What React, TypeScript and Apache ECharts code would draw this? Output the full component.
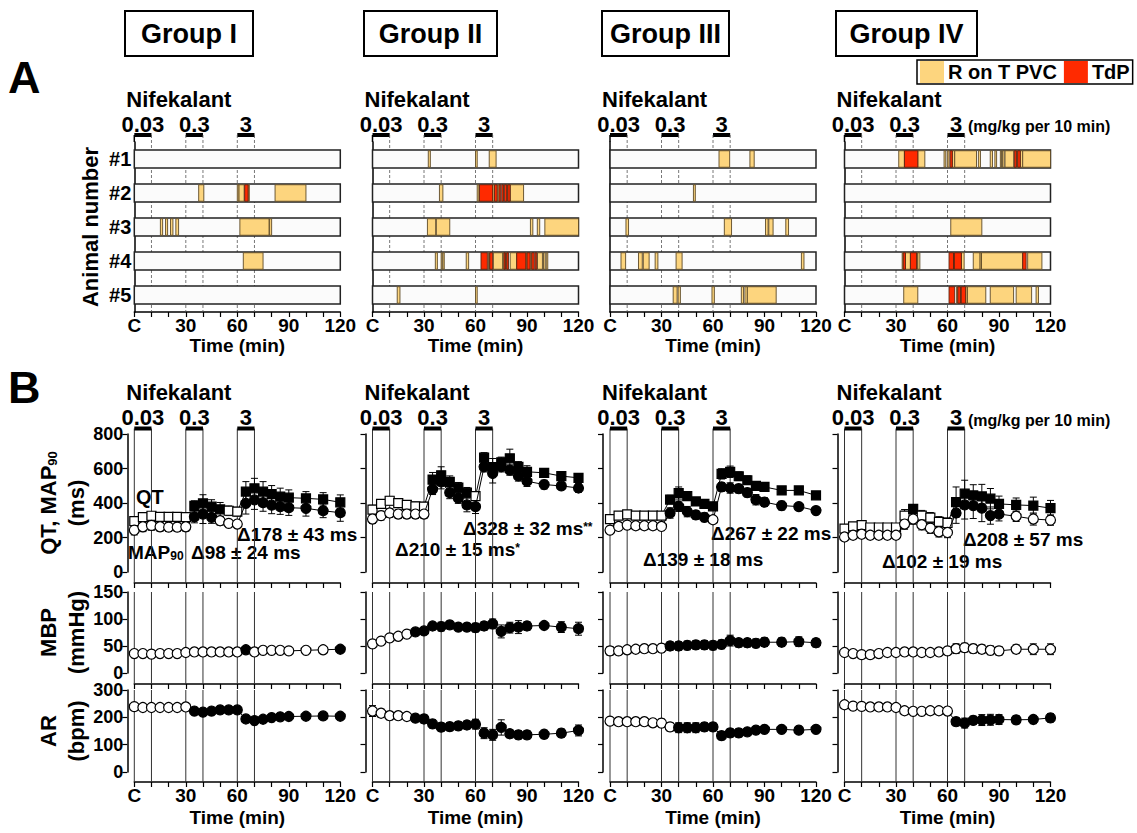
import { useEffect, useRef } from 'react';
import * as echarts from 'echarts';

const FONT = '"Liberation Sans", Arial, Helvetica, sans-serif';

// ---------- labels ----------
const GROUP_NAMES = ['Group I', 'Group II', 'Group III', 'Group IV'];
const ANIMALS = ['#1', '#2', '#3', '#4', '#5'];
const TIMES = [0, 5, 10, 15, 20, 25, 30, 35, 40, 45, 50, 55, 60, 65, 70, 75, 80, 85, 90, 100, 110, 120];
const X_TICK_VALUES = [0, 30, 60, 90, 120];
const X_TICK_TEXT = ['C', '30', '60', '90', '120'];
const DOSE_LABELS = ['0.03', '0.3', '3'];
const DOSE_START = [0, 30, 60];
const DOSE_END = [10, 40, 70];
const LEGEND_NAMES = ['R on T PVC', 'TdP'];
const DELTA_LOW = ['Δ98 ± 24 ms', 'Δ210 ± 15 ms', 'Δ139 ± 18 ms', 'Δ102 ± 19 ms'];
const DELTA_LOW_MARK = ['', '*', '', ''];
const DELTA_HIGH = ['Δ178 ± 43 ms', 'Δ328 ± 32 ms', 'Δ267 ± 22 ms', 'Δ208 ± 57 ms'];
const DELTA_HIGH_MARK = ['', '**', '', ''];

// ---------- panel A events: [animal index, start min, end min] ----------
const RONT_I = [
  [1, 37.5, 40.5], [1, 60, 61], [1, 61, 64], [1, 66.3, 67], [1, 82, 100],
  [2, 15.2, 16.5], [2, 18.2, 19.4], [2, 21.1, 22.5], [2, 24.2, 25.8], [2, 61.5, 78.5], [2, 78.8, 80],
  [3, 63.5, 75],
];
const TDP_I = [[1, 64.3, 66.3]];

const RONT_II = [
  [0, 32.5, 33.7], [0, 60, 61], [0, 68, 72],
  [1, 39, 41], [1, 61, 62], [1, 70, 71], [1, 72.6, 73.7], [1, 78.2, 78.8], [1, 80.2, 88],
  [2, 32, 36.8], [2, 37.2, 45], [2, 92, 93.4], [2, 96, 97.4], [2, 100.4, 120],
  [3, 36.6, 37.8], [3, 40, 40.6], [3, 41, 41.8], [3, 54.6, 56], [3, 67.6, 68.2], [3, 70.4, 75.9],
  [3, 75.9, 76.6], [3, 77.4, 78.2], [3, 80.2, 84], [3, 89.3, 90], [3, 91.8, 92.8], [3, 96.1, 99],
  [3, 99.6, 100.6], [3, 101.2, 102.1],
  [4, 14.4, 16], [4, 60, 61],
];
const TDP_II = [
  [1, 62.3, 70], [1, 71, 72.6], [1, 73.7, 74.7], [1, 75.3, 76.3], [1, 76.8, 78.2], [1, 78.8, 80.2],
  [3, 63.2, 66.9], [3, 68.3, 70], [3, 76.6, 77.4], [3, 78.2, 79.2], [3, 84, 89.3], [3, 90, 91.8],
  [3, 92.8, 94.2], [3, 94.7, 95.7],
];

const RONT_III = [
  [0, 63.5, 69.7], [0, 81.5, 84],
  [1, 48.6, 49.7],
  [2, 9.3, 10.8], [2, 66.6, 70.8], [2, 90.6, 92.1], [2, 92.5, 95], [2, 102.4, 104],
  [3, 6.4, 9.1], [3, 16.6, 18.8], [3, 19.4, 22.8], [3, 26.3, 27.9], [3, 38.5, 42], [3, 111.5, 113],
  [4, 36.8, 39.1], [4, 39.7, 41], [4, 59.4, 60.8], [4, 76.5, 77.8], [4, 78.6, 80], [4, 80, 96.8],
];
const TDP_III: number[][] = [];

const RONT_IV = [
  [0, 31.6, 34.9], [0, 42.7, 46.8], [0, 58, 59], [0, 59.9, 60.9], [0, 62.8, 64.2], [0, 64.2, 76.9],
  [0, 78, 79.2], [0, 84.9, 86.2], [0, 87.6, 88.6], [0, 90.8, 91.5], [0, 92, 93], [0, 93.5, 98.6],
  [0, 100.1, 100.9], [0, 102.4, 103.8], [0, 103.8, 120],
  [2, 61.9, 80],
  [3, 33.6, 34.2], [3, 35.5, 38.4], [3, 42, 42.7], [3, 42.7, 43.9], [3, 63.5, 64], [3, 68.1, 69.7],
  [3, 75, 79], [3, 79, 79.8], [3, 79.8, 103.8], [3, 106.7, 115],
  [4, 34.5, 42.7], [4, 65.3, 66], [4, 67.5, 68], [4, 70.6, 71.6], [4, 71.6, 82.3], [4, 84.9, 98.5],
  [4, 100, 109], [4, 111.6, 113],
];
const TDP_IV = [
  [0, 34.9, 42.7], [0, 61.5, 62.8], [0, 98.9, 100.1], [0, 100.9, 102.4],
  [3, 34.2, 35.5], [3, 38.4, 42], [3, 60.9, 63.5], [3, 64, 68.1], [3, 103.8, 105.8],
  [4, 60.9, 64.2], [4, 66, 67.5], [4, 68, 70.6],
];

// ---------- panel B (values at TIMES) ----------
// Group I
const QT_I = [295, 318, 326, 320, 320, 320, 318, 383, 398, 379, 363, 355, 350, 466, 485, 466, 451, 437, 431, 427, 421, 404];
const QT_I_ERR = [15, 15, 15, 15, 15, 15, 15, 30, 50, 40, 40, 28, 25, 58, 58, 58, 50, 49, 45, 39, 39, 43];
const QT_I_FILL = [0, 0, 0, 0, 0, 0, 0, 1, 1, 1, 1, 0, 0, 1, 1, 1, 1, 1, 1, 1, 1, 1];
const MAP_I = [243, 262, 270, 262, 260, 260, 262, 320, 336, 317, 297, 282, 278, 398, 418, 402, 388, 379, 373, 369, 355, 344];
const MAP_I_ERR = [28, 28, 28, 25, 25, 25, 25, 35, 55, 35, 25, 20, 20, 62, 55, 50, 50, 45, 45, 45, 40, 50];
const MAP_I_FILL = [0, 0, 0, 0, 0, 0, 0, 1, 1, 1, 0, 0, 0, 1, 1, 1, 1, 1, 1, 1, 1, 1];
const MBP_I = [36, 36, 35, 36, 36, 36, 38, 39, 39, 39, 39, 39, 39, 43, 39, 42, 42, 42, 41, 42, 43, 44];
const MBP_I_ERR = [3, 3, 3, 3, 3, 3, 3, 3, 3, 3, 3, 3, 3, 3, 3, 3, 3, 3, 3, 3, 3, 3];
const MBP_I_FILL = [0, 0, 0, 0, 0, 0, 0, 0, 0, 0, 0, 0, 0, 1, 0, 0, 0, 0, 0, 0, 0, 1];
const AR_I = [239, 236, 236, 236, 236, 236, 238, 223, 219, 223, 227, 227, 227, 194, 188, 193, 199, 202, 203, 204, 205, 204];
const AR_I_ERR = [6, 5, 5, 5, 5, 5, 5, 5, 5, 5, 5, 5, 5, 6, 6, 5, 5, 5, 5, 5, 5, 5];
const AR_I_FILL = [0, 0, 0, 0, 0, 0, 0, 1, 1, 1, 1, 1, 1, 1, 1, 1, 1, 1, 1, 1, 1, 1];
// Group II
const QT_II = [362, 395, 413, 399, 389, 381, 379, 536, 561, 522, 489, 460, 440, 663, 608, 636, 659, 610, 581, 575, 556, 546];
const QT_II_ERR = [25, 25, 25, 25, 25, 25, 25, 41, 49, 35, 30, 30, 25, 29, 50, 30, 53, 30, 35, 20, 20, 20];
const QT_II_FILL = [0, 0, 0, 0, 0, 0, 0, 1, 1, 1, 1, 1, 0, 1, 1, 1, 1, 1, 1, 1, 1, 1];
const MAP_II = [307, 327, 342, 336, 336, 336, 336, 479, 522, 460, 428, 389, 379, 610, 571, 610, 591, 557, 526, 507, 499, 487];
const MAP_II_ERR = [25, 25, 25, 25, 25, 25, 25, 30, 40, 35, 30, 40, 40, 30, 55, 30, 30, 30, 30, 25, 20, 25];
const MAP_II_FILL = [0, 0, 0, 0, 0, 0, 0, 1, 1, 1, 1, 1, 1, 1, 1, 1, 1, 1, 1, 1, 1, 1];
const MBP_II = [54, 59, 65, 68, 72, 76, 78, 87, 86, 89, 85, 85, 84, 87, 91, 77, 84, 85, 87, 88, 85, 82];
const MBP_II_ERR = [5, 4, 4, 4, 4, 4, 5, 7, 8, 7, 6, 7, 8, 8, 9, 12, 10, 12, 8, 5, 10, 12];
const MBP_II_FILL = [0, 0, 0, 0, 0, 1, 1, 1, 1, 1, 1, 1, 1, 1, 1, 1, 1, 1, 1, 1, 1, 1];
const AR_II = [223, 215, 206, 206, 203, 197, 194, 176, 164, 166, 169, 172, 175, 142, 136, 163, 140, 136, 136, 138, 142, 152];
const AR_II_ERR = [20, 15, 15, 12, 12, 12, 15, 15, 15, 15, 15, 15, 18, 20, 20, 28, 15, 15, 15, 15, 15, 20];
const AR_II_FILL = [0, 0, 0, 0, 0, 1, 1, 1, 1, 1, 1, 1, 1, 1, 1, 1, 1, 1, 1, 1, 1, 1];
// Group III
const QT_III = [307, 327, 334, 327, 327, 327, 327, 420, 458, 440, 409, 395, 381, 569, 581, 555, 532, 499, 493, 473, 473, 444];
const QT_III_ERR = [18, 18, 18, 15, 15, 15, 15, 25, 35, 25, 20, 20, 20, 30, 33, 25, 25, 25, 25, 20, 20, 15];
const QT_III_FILL = [0, 0, 0, 0, 0, 0, 0, 1, 1, 1, 1, 1, 1, 1, 1, 1, 1, 1, 1, 1, 1, 1];
const MAP_III = [243, 264, 272, 268, 268, 268, 264, 342, 381, 350, 331, 317, 303, 493, 487, 483, 460, 419, 405, 385, 379, 356];
const MAP_III_ERR = [20, 20, 20, 20, 20, 20, 20, 30, 30, 30, 25, 25, 15, 25, 30, 25, 25, 30, 25, 25, 20, 20];
const MAP_III_FILL = [0, 0, 0, 0, 0, 0, 0, 1, 1, 1, 1, 1, 0, 1, 1, 1, 1, 1, 1, 1, 1, 1];
const MBP_III = [41, 41, 43, 44, 45, 45, 46, 50, 50, 51, 52, 52, 51, 53, 60, 56, 56, 55, 57, 57, 58, 56];
const MBP_III_ERR = [8, 6, 6, 5, 5, 6, 7, 8, 8, 8, 8, 8, 8, 8, 10, 8, 8, 8, 8, 8, 9, 8];
const MBP_III_FILL = [0, 0, 0, 0, 0, 0, 0, 1, 1, 1, 1, 1, 1, 1, 1, 1, 1, 1, 1, 1, 1, 1];
const AR_III = [186, 184, 184, 184, 184, 180, 179, 165, 162, 162, 162, 165, 165, 133, 143, 143, 147, 153, 156, 156, 153, 156];
const AR_III_ERR = [10, 12, 12, 12, 12, 12, 14, 15, 18, 18, 18, 15, 15, 15, 15, 15, 12, 12, 12, 10, 10, 12];
const AR_III_FILL = [0, 0, 0, 0, 0, 0, 0, 0, 1, 1, 1, 1, 1, 1, 1, 1, 1, 1, 1, 1, 1, 1];
// Group IV
const QT_IV = [252, 264, 272, 258, 258, 258, 258, 327, 366, 327, 315, 291, 284, 405, 454, 444, 438, 425, 395, 389, 385, 370];
const QT_IV_ERR = [20, 20, 20, 20, 20, 20, 20, 35, 25, 30, 30, 30, 30, 88, 78, 62, 70, 59, 45, 40, 49, 45];
const QT_IV_FILL = [0, 0, 0, 0, 0, 0, 0, 0, 1, 0, 0, 0, 0, 1, 1, 1, 1, 1, 1, 1, 1, 1];
const MAP_IV = [203, 213, 219, 213, 213, 213, 213, 278, 307, 274, 254, 233, 229, 342, 389, 385, 370, 327, 336, 323, 307, 301];
const MAP_IV_ERR = [20, 20, 20, 20, 20, 20, 20, 30, 30, 30, 30, 30, 30, 60, 82, 75, 78, 50, 40, 30, 35, 30];
const MAP_IV_FILL = [0, 0, 0, 0, 0, 0, 0, 0, 0, 0, 0, 0, 0, 1, 1, 1, 1, 1, 1, 0, 0, 0];
const MBP_IV = [38, 36, 34, 34, 36, 38, 38, 39, 39, 38, 38, 39, 41, 45, 47, 45, 44, 42, 41, 44, 44, 44];
const MBP_IV_ERR = [4, 3, 3, 3, 3, 3, 4, 4, 4, 4, 4, 4, 5, 9, 8, 8, 8, 8, 8, 8, 10, 10];
const MBP_IV_FILL = [0, 0, 0, 0, 0, 0, 0, 0, 0, 0, 0, 0, 0, 0, 0, 0, 0, 0, 0, 0, 0, 0];
const AR_IV = [246, 241, 240, 238, 238, 238, 236, 224, 222, 222, 224, 224, 223, 184, 179, 189, 190, 191, 192, 191, 192, 198];
const AR_IV_ERR = [5, 5, 5, 5, 5, 5, 5, 5, 5, 5, 5, 5, 5, 15, 18, 15, 20, 20, 18, 15, 15, 15];
const AR_IV_FILL = [0, 0, 0, 0, 0, 0, 0, 0, 0, 0, 0, 0, 0, 1, 1, 1, 1, 1, 1, 1, 1, 1];

// ---------- assemble per group ----------
const GROUPS = [
  { ront: RONT_I, tdp: TDP_I, qt: [QT_I, QT_I_ERR, QT_I_FILL], map: [MAP_I, MAP_I_ERR, MAP_I_FILL], mbp: [MBP_I, MBP_I_ERR, MBP_I_FILL], ar: [AR_I, AR_I_ERR, AR_I_FILL] },
  { ront: RONT_II, tdp: TDP_II, qt: [QT_II, QT_II_ERR, QT_II_FILL], map: [MAP_II, MAP_II_ERR, MAP_II_FILL], mbp: [MBP_II, MBP_II_ERR, MBP_II_FILL], ar: [AR_II, AR_II_ERR, AR_II_FILL] },
  { ront: RONT_III, tdp: TDP_III, qt: [QT_III, QT_III_ERR, QT_III_FILL], map: [MAP_III, MAP_III_ERR, MAP_III_FILL], mbp: [MBP_III, MBP_III_ERR, MBP_III_FILL], ar: [AR_III, AR_III_ERR, AR_III_FILL] },
  { ront: RONT_IV, tdp: TDP_IV, qt: [QT_IV, QT_IV_ERR, QT_IV_FILL], map: [MAP_IV, MAP_IV_ERR, MAP_IV_FILL], mbp: [MBP_IV, MBP_IV_ERR, MBP_IV_FILL], ar: [AR_IV, AR_IV_ERR, AR_IV_FILL] },
];

// ---------- layout ----------
const COL_LEFT = [134.3, 372.5, 610, 844.5];
const COL_WIDTH = 206;
const ROWS = [
  { top: 142, height: 170, xOffset: 0 },
  { top: 434, height: 138, xOffset: 11, min: 0, max: 800, interval: 200 },
  { top: 592, height: 81, xOffset: 11, min: 0, max: 150, interval: 50 },
  { top: 690, height: 82, xOffset: 10, min: 0, max: 300, interval: 100 },
];
const YELLOW = '#FDD57E';
const RED = '#FF2A00';

const bold = (size: number) => ({ fontSize: size, fontWeight: 'bold' as const, fontFamily: FONT, color: '#000' });

function textStyle(text: string, size: number, align = 'left', vAlign = 'middle', extra: any = {}) {
  return {
    text, fontSize: size, fontWeight: 'bold', fontFamily: FONT, fill: '#000', lineHeight: Math.round(size * 0.85),
    align, verticalAlign: vAlign, textAlign: align, textVerticalAlign: vAlign, ...extra,
  };
}

function buildOption() {
  const grid: any[] = [];
  const xAxis: any[] = [];
  const yAxis: any[] = [];
  const series: any[] = [];
  const graphic: any[] = [];

  ROWS.forEach((row, r) => {
    for (let c = 0; c < 4; c++) {
      const gi = r * 4 + c;
      grid.push({ left: COL_LEFT[c], top: row.top, width: COL_WIDTH, height: row.height, containLabel: false, outerBoundsMode: 'none' });
      const showX = r === 0 || r === 3;
      xAxis.push({
        type: 'value', gridIndex: gi, min: 0, max: 120, interval: 10, offset: row.xOffset,
        axisLine: { show: true, onZero: false, lineStyle: { color: '#000', width: 1.5 } },
        axisTick: { show: true, length: 5, inside: false, lineStyle: { color: '#000', width: 1.2 } },
        axisLabel: {
          show: showX, margin: 5, hideOverlap: false, ...bold(19), lineHeight: 17,
          formatter: (v: number) => { const k = X_TICK_VALUES.indexOf(v); return k >= 0 ? X_TICK_TEXT[k] : ''; },
        },
        splitLine: { show: false },
        name: showX ? 'Time (min)' : '', nameLocation: 'middle', nameGap: r === 0 ? 24 : 27,
        nameTextStyle: { ...bold(19), lineHeight: 17 },
      });
      if (r === 0) {
        yAxis.push({
          type: 'category', gridIndex: gi, data: ANIMALS, inverse: true,
          axisLine: { show: true, onZero: false, lineStyle: { color: '#000', width: 1.5 } },
          axisTick: { show: false },
          axisLabel: { show: c === 0, margin: 3, ...bold(20) },
          splitLine: { show: false },
          name: c === 0 ? 'Animal number' : '', nameLocation: 'middle', nameGap: 33, nameRotate: 90,
          nameTextStyle: bold(22),
        });
      } else {
        const names = ['', '{b|QT, MAP}{s|90}\n{b|(ms)}', '{b|MBP}\n{b|(mmHg)}', '{b|AR}\n{b|(bpm)}'];
        yAxis.push({
          type: 'value', gridIndex: gi, min: row.min, max: row.max, interval: row.interval, offset: 7,
          axisLine: { show: true, onZero: false, lineStyle: { color: '#000', width: 1.5 } },
          axisTick: { show: true, length: 5, inside: false, lineStyle: { color: '#000', width: 1.2 } },
          axisLabel: { show: c === 0, margin: 4, ...bold(18), lineHeight: 14 },
          splitLine: { show: false },
          name: c === 0 ? names[r] : '', nameLocation: 'middle', nameGap: 40, nameRotate: 90,
          nameTextStyle: {
            rich: {
              b: { ...bold(22), lineHeight: 28, verticalAlign: 'bottom' },
              s: { ...bold(13), lineHeight: 14, verticalAlign: 'bottom' },
            },
          },
        });
      }

      const doseData = DOSE_START.map((s, i) => [s, DOSE_END[i], i]);
      const g = GROUPS[c];

      if (r === 0) {
        series.push({
          type: 'custom', name: 'doseA' + c, xAxisIndex: gi, yAxisIndex: gi, z: 1, silent: true, clip: false,
          encode: { x: [0, 1] }, data: doseData,
          renderItem: (params: any, api: any) => {
            const s = api.value(0), e = api.value(1), i = api.value(2);
            const cs = params.coordSys;
            const x1 = api.coord([s, 0])[0];
            const x2 = api.coord([e, 0])[0];
            const barY = cs.y - 7;
            const bottom = cs.y + cs.height;
            const children: any[] = [
              { type: 'rect', shape: { x: x1, y: barY - 2, width: x2 - x1, height: 4 }, style: { fill: '#000' } },
              { type: 'text', style: { ...textStyle(DOSE_LABELS[i], 22, 'center', 'middle'), x: (x1 + x2) / 2, y: barY - 11 } },
            ];
            [[s, x1], [e, x2]].forEach(([v, x]) => {
              if (v > 0) children.push({ type: 'line', shape: { x1: x, y1: barY, x2: x, y2: bottom }, style: { stroke: '#555', lineWidth: 0.8, lineDash: [3, 2] } });
              else children.push({ type: 'line', shape: { x1: x, y1: barY, x2: x, y2: cs.y }, style: { stroke: '#000', lineWidth: 1.5 } });
            });
            return { type: 'group', children };
          },
        });
        series.push({
          type: 'custom', name: 'bg' + c, xAxisIndex: gi, yAxisIndex: gi, z: 2, silent: true,
          encode: { x: [1, 2], y: 0 }, data: ANIMALS.map((_, i) => [i, 0, 120]),
          renderItem: (params: any, api: any) => {
            const a = api.value(0);
            const p1 = api.coord([api.value(1), a]);
            const p2 = api.coord([api.value(2), a]);
            const h = api.size([0, 1])[1] * 0.53;
            return { type: 'rect', shape: { x: p1[0], y: p1[1] - h / 2, width: p2[0] - p1[0], height: h }, style: { fill: '#fbfbfb', stroke: '#222', lineWidth: 1.5 } };
          },
        });
        const evRender = (fill: string, stroke: string) => (params: any, api: any) => {
          const a = api.value(0);
          const p1 = api.coord([api.value(1), a]);
          const p2 = api.coord([api.value(2), a]);
          const h = api.size([0, 1])[1] * 0.53;
          return { type: 'rect', shape: { x: p1[0], y: p1[1] - h / 2 + 0.75, width: Math.max(p2[0] - p1[0], 1), height: h - 1.5 }, style: { fill, stroke, lineWidth: 0.9 } };
        };
        series.push({
          type: 'custom', name: LEGEND_NAMES[0], xAxisIndex: gi, yAxisIndex: gi, z: 3, silent: true,
          itemStyle: { color: YELLOW }, encode: { x: [1, 2], y: 0 }, data: g.ront,
          renderItem: evRender(YELLOW, '#5e4a26'),
        });
        series.push({
          type: 'custom', name: LEGEND_NAMES[1], xAxisIndex: gi, yAxisIndex: gi, z: 4, silent: true,
          itemStyle: { color: RED }, encode: { x: [1, 2], y: 0 }, data: g.tdp,
          renderItem: evRender(RED, '#5a2410'),
        });
      } else {
        const xOff = row.xOffset;
        const withBar = r === 1;
        series.push({
          type: 'custom', name: 'guide' + gi, xAxisIndex: gi, yAxisIndex: gi, z: 1, silent: true, clip: false,
          encode: { x: [0, 1] }, data: doseData,
          renderItem: (params: any, api: any) => {
            const s = api.value(0), e = api.value(1), i = api.value(2);
            const cs = params.coordSys;
            const x1 = api.coord([s, 0])[0];
            const x2 = api.coord([e, 0])[0];
            const barY = withBar ? cs.y - 5.5 : cs.y;
            const bottom = cs.y + cs.height + xOff;
            const children: any[] = [
              { type: 'line', shape: { x1, y1: barY, x2: x1, y2: bottom }, style: { stroke: '#333', lineWidth: 1 } },
              { type: 'line', shape: { x1: x2, y1: barY, x2, y2: bottom }, style: { stroke: '#333', lineWidth: 1 } },
            ];
            if (withBar) {
              children.push({ type: 'rect', shape: { x: x1, y: barY - 2, width: x2 - x1, height: 4 }, style: { fill: '#000' } });
              children.push({ type: 'text', style: { ...textStyle(DOSE_LABELS[i], 22, 'center', 'middle'), x: (x1 + x2) / 2, y: barY - 11 } });
            }
            return { type: 'group', children };
          },
        });
        const sets: any[] = r === 1 ? [[g.qt, 'rect'], [g.map, 'circle']] : r === 2 ? [[g.mbp, 'circle']] : [[g.ar, 'circle']];
        sets.forEach(([arr]: any, k: number) => {
          const [vals, errs] = arr;
          series.push({
            type: 'custom', name: 'err' + gi + '_' + k, xAxisIndex: gi, yAxisIndex: gi, z: 2, silent: true, clip: false,
            encode: { x: 0, y: 1 }, data: TIMES.map((t, i) => [t, vals[i], errs[i]]),
            renderItem: (params: any, api: any) => {
              const t = api.value(0), v = api.value(1), e = api.value(2);
              const top = api.coord([t, v + e]);
              const bot = api.coord([t, v - e]);
              const w = 3.5;
              const st = { stroke: '#000', lineWidth: 1 };
              return {
                type: 'group', children: [
                  { type: 'line', shape: { x1: top[0], y1: top[1], x2: bot[0], y2: bot[1] }, style: st },
                  { type: 'line', shape: { x1: top[0] - w, y1: top[1], x2: top[0] + w, y2: top[1] }, style: st },
                  { type: 'line', shape: { x1: bot[0] - w, y1: bot[1], x2: bot[0] + w, y2: bot[1] }, style: st },
                ],
              };
            },
          });
        });
        sets.forEach(([arr, sym]: any, k: number) => {
          const [vals, , fills] = arr;
          series.push({
            type: 'line', name: 'pts' + gi + '_' + k, xAxisIndex: gi, yAxisIndex: gi, z: 3 + k, silent: true,
            symbol: sym, symbolSize: sym === 'rect' ? 9 : 10, showAllSymbol: true, clip: false,
            lineStyle: { color: '#000', width: 1 },
            itemStyle: { borderColor: '#000', borderWidth: 1.2 },
            emphasis: { disabled: true },
            data: TIMES.map((t, i) => ({ value: [t, vals[i]], itemStyle: { color: fills[i] ? '#000' : '#fff', borderColor: '#000', borderWidth: 1.2 } })),
          });
        });
      }
    }
  });

  // ---------- graphics ----------
  const boxes = [[125, 253], [364, 497], [602, 729], [836, 977]];
  boxes.forEach(([x1, x2], i) => {
    graphic.push({ type: 'rect', shape: { x: x1, y: 11, width: x2 - x1, height: 45 }, style: { fill: '#fff', stroke: '#000', lineWidth: 2 } });
    graphic.push({ type: 'text', x: (x1 + x2) / 2, y: 34, style: textStyle(GROUP_NAMES[i], 27, 'center', 'middle') });
  });
  graphic.push({ type: 'text', x: 8, y: 77, style: textStyle('A', 45, 'left', 'middle') });
  graphic.push({ type: 'text', x: 8, y: 387, style: textStyle('B', 45, 'left', 'middle') });
  [99.5, 392.5].forEach((y) => {
    COL_LEFT.forEach((x) => {
      graphic.push({ type: 'text', x: x - 8, y, style: textStyle('Nifekalant', 22, 'left', 'middle') });
    });
  });
  graphic.push({ type: 'text', x: 968, y: 126, style: textStyle('(mg/kg per 10 min)', 16, 'left', 'middle') });
  graphic.push({ type: 'text', x: 968, y: 420, style: textStyle('(mg/kg per 10 min)', 16, 'left', 'middle') });
  graphic.push({ type: 'text', x: 136, y: 497, style: textStyle('QT', 20, 'left', 'middle') });
  const rich = {
    b: { ...bold(19), lineHeight: 17, verticalAlign: 'bottom' },
    s: { ...bold(12), lineHeight: 6, verticalAlign: 'bottom' },
    u: { ...bold(12), lineHeight: 8, verticalAlign: 'top' },
  };
  graphic.push({ type: 'text', x: 128, y: 553, style: { ...textStyle('{b|MAP}{s|90}', 19, 'left', 'middle'), rich } });
  const lowPos = [[191, 553], [395, 550], [643, 560], [882, 562]];
  const highPos = [[237, 535], [463, 529], [711, 534], [963, 540]];
  for (let c = 0; c < 4; c++) {
    graphic.push({ type: 'text', x: lowPos[c][0], y: lowPos[c][1], style: { ...textStyle('{b|' + DELTA_LOW[c] + '}' + (DELTA_LOW_MARK[c] ? '{u|' + DELTA_LOW_MARK[c] + '}' : ''), 19, 'left', 'middle'), rich } });
    graphic.push({ type: 'text', x: highPos[c][0], y: highPos[c][1], style: { ...textStyle('{b|' + DELTA_HIGH[c] + '}' + (DELTA_HIGH_MARK[c] ? '{u|' + DELTA_HIGH_MARK[c] + '}' : ''), 19, 'left', 'middle'), rich } });
  }

  return {
    animation: false,
    backgroundColor: '#fff',
    textStyle: { fontFamily: FONT },
    legend: {
      data: LEGEND_NAMES, left: 917, top: 60, orient: 'horizontal', icon: 'rect',
      itemWidth: 24, itemHeight: 22, itemGap: 7, padding: [1, 3, 1, 3],
      borderColor: '#000', borderWidth: 1.5, backgroundColor: '#fff', selectedMode: false,
      itemStyle: { borderWidth: 0 },
      textStyle: { ...bold(20), padding: [0, 0, 0, -1] },
    },
    grid, xAxis, yAxis, series,
    graphic: { elements: graphic },
  };
}

export default function App() {
  const ref = useRef<HTMLDivElement>(null);
  useEffect(() => {
    if (!ref.current) return;
    const chart = echarts.init(ref.current, undefined, { renderer: 'svg' });
    chart.setOption(buildOption() as any);
    return () => chart.dispose();
  }, []);
  return <div ref={ref} style={{ position: 'absolute', left: 0, top: 0, width: 1137, height: 833, background: '#fff' }} />;
}
